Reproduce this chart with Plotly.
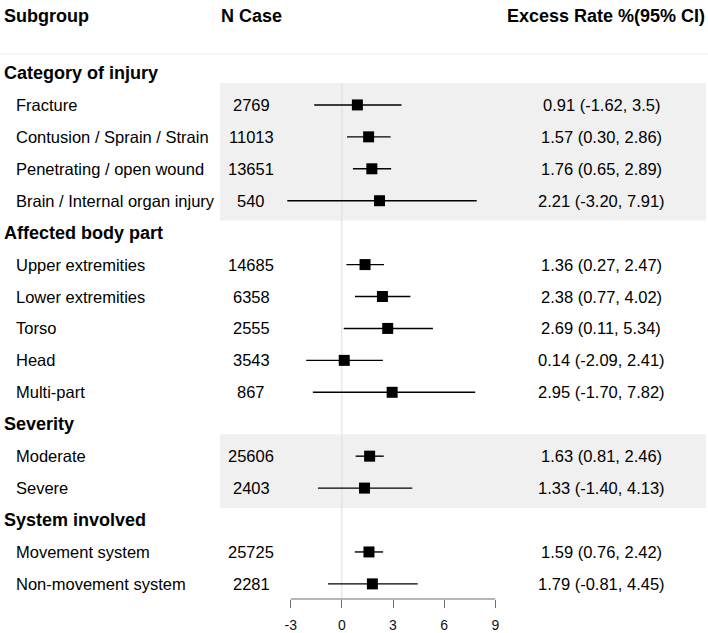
import plotly.graph_objects as go

# ---------------- data ----------------
group_names = ["Category of injury", "Affected body part", "Severity", "System involved"]
group_sizes = [4, 5, 2, 2]
shaded_groups = [0, 2]

subgroups = [
    "Fracture", "Contusion / Sprain / Strain", "Penetrating / open wound",
    "Brain / Internal organ injury",
    "Upper extremities", "Lower extremities", "Torso", "Head", "Multi-part",
    "Moderate", "Severe",
    "Movement system", "Non-movement system",
]
n_cases = [2769, 11013, 13651, 540, 14685, 6358, 2555, 3543, 867, 25606, 2403, 25725, 2281]
est = [0.91, 1.57, 1.76, 2.21, 1.36, 2.38, 2.69, 0.14, 2.95, 1.63, 1.33, 1.59, 1.79]
ci_low = [-1.62, 0.30, 0.65, -3.20, 0.27, 0.77, 0.11, -2.09, -1.70, 0.81, -1.40, 0.76, -0.81]
ci_high = [3.5, 2.86, 2.89, 7.91, 2.47, 4.02, 5.34, 2.41, 7.82, 2.46, 4.13, 2.42, 4.45]
ci_labels = [
    "0.91 (-1.62, 3.5)", "1.57 (0.30, 2.86)", "1.76 (0.65, 2.89)", "2.21 (-3.20, 7.91)",
    "1.36 (0.27, 2.47)", "2.38 (0.77, 4.02)", "2.69 (0.11, 5.34)", "0.14 (-2.09, 2.41)",
    "2.95 (-1.70, 7.82)", "1.63 (0.81, 2.46)", "1.33 (-1.40, 4.13)",
    "1.59 (0.76, 2.42)", "1.79 (-0.81, 4.45)",
]
x_ticks = [-3, 0, 3, 6, 9]
headers = ["Subgroup", "N Case", "Excess Rate %(95% CI)"]

# ---------------- layout constants ----------------
W, H = 708, 633
PLOT_BOTTOM = 599          # pixel row of the forest axis line
ROW0_PX = 73               # pixel centre of first row
ROW_PX = 31.93             # row pitch in pixels
X0_PX = 341.85             # pixel of x = 0
X_PX = 17.05               # pixels per x-unit

y_top = ROW0_PX / ROW_PX
y_bot = y_top - PLOT_BOTTOM / ROW_PX
x_min = -X0_PX / X_PX
x_max = (W - X0_PX) / X_PX

def px_to_paper_x(px):
    return px / W

FONT = "Liberation Sans, Arial, sans-serif"

# row layout: group header rows + item rows
item_rows = []
header_rows = []
group_of_item = []
r = 0
for g, size in enumerate(group_sizes):
    header_rows.append(r)
    r += 1
    for _ in range(size):
        item_rows.append(r)
        group_of_item.append(g)
        r += 1

item_y = [-row for row in item_rows]

fig = go.Figure()

fig.add_trace(go.Scatter(
    x=est, y=item_y, mode="markers",
    marker=dict(symbol="square", size=11, color="black"),
    error_x=dict(type="data", symmetric=False,
                 array=[h - e for h, e in zip(ci_high, est)],
                 arrayminus=[e - l for e, l in zip(est, ci_low)],
                 width=0, thickness=1.4, color="black"),
    hoverinfo="skip", showlegend=False,
))

shapes = []
# shaded blocks
for g in shaded_groups:
    rows = [item_rows[i] for i in range(len(item_rows)) if group_of_item[i] == g]
    shapes.append(dict(type="rect", xref="paper", yref="y",
                       x0=px_to_paper_x(220), x1=px_to_paper_x(706),
                       y0=-(min(rows) - 0.69), y1=-(max(rows) + 0.62),
                       fillcolor="#f0f0f0", line=dict(width=0), layer="below"))
# header separator line
shapes.append(dict(type="line", xref="paper", yref="y", x0=0, x1=1,
                   y0=y_top - 54 / ROW_PX, y1=y_top - 54 / ROW_PX,
                   line=dict(color="#eeeeee", width=1), layer="below"))
# reference line at 0
shapes.append(dict(type="line", xref="x", yref="y", x0=0, x1=0,
                   y0=-(item_rows[0] - 0.69), y1=y_bot,
                   line=dict(color="#dddddd", width=1), layer="below"))
# axis line across tick span
shapes.append(dict(type="line", xref="x", yref="paper", x0=min(x_ticks), x1=max(x_ticks),
                   y0=0, y1=0, line=dict(color="#6f6f6f", width=1)))

annotations = []
# column headers
hdr_y = y_top - 16 / ROW_PX
hdr_font = dict(family=FONT, size=18, color="black")
annotations.append(dict(text="<b>" + headers[0] + "</b>", xref="paper", yref="y",
                        x=px_to_paper_x(2), y=hdr_y, xanchor="left", yanchor="middle",
                        showarrow=False, font=hdr_font))
annotations.append(dict(text="<b>" + headers[1] + "</b>", xref="paper", yref="y",
                        x=px_to_paper_x(219), y=hdr_y, xanchor="left", yanchor="middle",
                        showarrow=False, font=hdr_font))
annotations.append(dict(text="<b>" + headers[2] + "</b>", xref="paper", yref="y",
                        x=px_to_paper_x(707), y=hdr_y, xanchor="right", yanchor="middle",
                        showarrow=False, font=hdr_font))
# group headers
for name, row in zip(group_names, header_rows):
    annotations.append(dict(text="<b>" + name + "</b>", xref="paper", yref="y",
                            x=px_to_paper_x(2), y=-row, xanchor="left", yanchor="middle",
                            showarrow=False, font=hdr_font))
item_font = dict(family=FONT, size=16.5, color="black")
for label, n, ci, row in zip(subgroups, n_cases, ci_labels, item_rows):
    annotations.append(dict(text=label, xref="paper", yref="y",
                            x=px_to_paper_x(14), y=-row, xanchor="left", yanchor="middle",
                            showarrow=False, font=item_font))
    annotations.append(dict(text=str(n), xref="paper", yref="y",
                            x=px_to_paper_x(251), y=-row, xanchor="center", yanchor="middle",
                            showarrow=False, font=item_font))
    annotations.append(dict(text=ci, xref="paper", yref="y",
                            x=px_to_paper_x(601), y=-row, xanchor="center", yanchor="middle",
                            showarrow=False, font=item_font))

fig.update_layout(
    width=W, height=H,
    margin=dict(l=0, r=0, t=0, b=H - PLOT_BOTTOM, pad=0),
    paper_bgcolor="white", plot_bgcolor="rgba(0,0,0,0)",
    shapes=shapes, annotations=annotations,
    showlegend=False,
    xaxis=dict(range=[x_min, x_max], tickvals=x_ticks, ticktext=[str(t) for t in x_ticks],
               ticks="outside", ticklen=8, tickwidth=1, tickcolor="#6f6f6f",
               showline=False, showgrid=False, zeroline=False, ticklabelstandoff=5,
               tickfont=dict(family=FONT, size=14, color="#111111"), fixedrange=True),
    yaxis=dict(range=[y_bot, y_top], visible=False, showgrid=False, zeroline=False,
               fixedrange=True),
)

fig.write_html(
    "out.html",
    config={"displayModeBar": False},
    post_script="document.body.style.margin='0';document.body.style.overflow='hidden';",
)
